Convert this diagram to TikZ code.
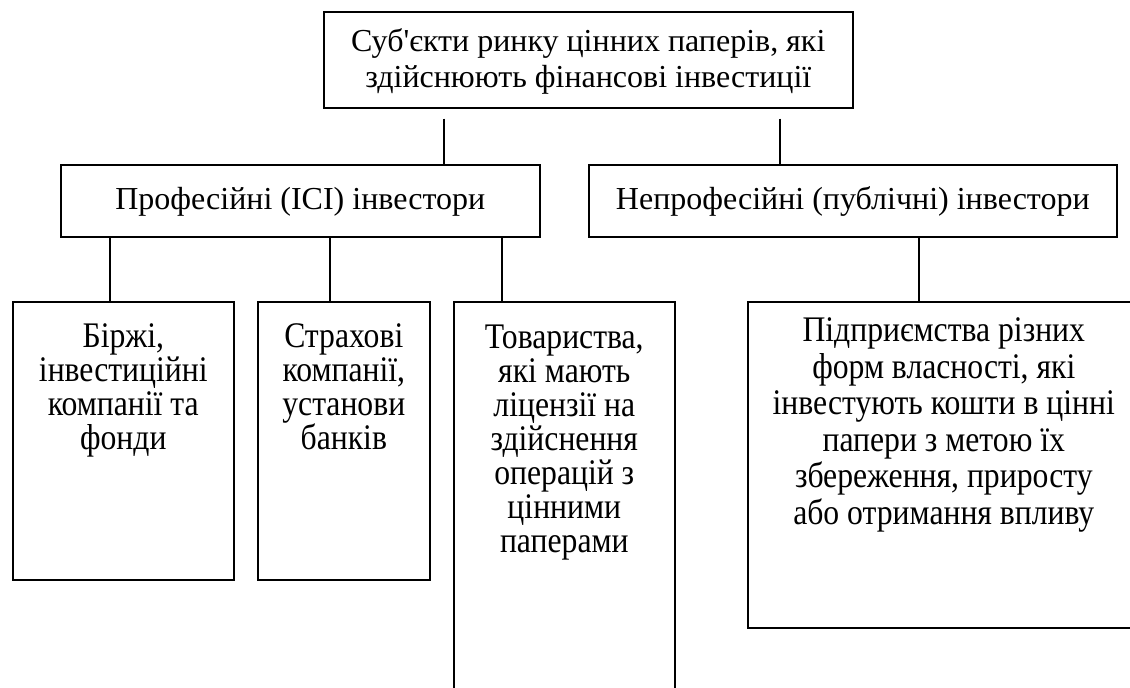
\documentclass[tikz,border=0pt]{standalone}
\usepackage{fontspec}
\setmainfont{Liberation Serif}[Ligatures=TeXOff]
\newfontfamily\tallfont{Liberation Serif}[FakeStretch=0.88]
\newcommand{\boxtxt}[4]{\parbox[c][#2pt][t]{#1pt}{\lineskiplimit=-100pt\centering\rule{0pt}{#3pt}#4}}
\begin{document}
\begin{tikzpicture}[x=1pt,y=-1pt,
  box/.style={draw, line width=1.6pt, inner sep=0pt, anchor=north west},
  upper/.style={box, font=\fontsize{32}{35.5}\selectfont},
  lower/.style={box, font=\tallfont\fontsize{36}{34}\selectfont},
  link/.style={line width=1.6pt}]
\useasboundingbox (0,0) rectangle (1130,688);
\clip (0,0) rectangle (1130,688);
\node[upper] (top) at (323,11) {\boxtxt{529}{96}{40}{Суб'єкти ринку цінних паперів, які\\здійснюють фінансові інвестиції}};
\node[upper] (l2a) at (60,164) {\boxtxt{479}{72}{45}{Професійні (ІСІ) інвестори}};
\node[upper] (l2b) at (588,164) {\boxtxt{528}{72}{45}{Непрофесійні (публічні) інвестори}};
\node[lower] (b1) at (12,301) {\boxtxt{221}{278}{46}{Біржі,\\інвестиційні\\компанії та\\фонди}};
\node[lower] (b2) at (257,301) {\boxtxt{172}{278}{46}{Страхові\\компанії,\\установи\\банків}};
\node[lower] (b3) at (453,301) {\boxtxt{221}{420}{47}{Товариства,\\які мають\\ліцензії на\\здійснення\\операцій з\\цінними\\паперами}};
\node[lower, font=\tallfont\fontsize{36}{36.5}\selectfont] (b4) at (747,301) {\boxtxt{392}{326}{40}{Підприємства різних\\форм власності, які\\інвестують кошти в цінні\\папери з метою їх\\збереження, приросту\\або отримання впливу}};
\coordinate (xa) at (444,0);
\coordinate (xb) at (780,0);
\coordinate (x1) at (110,0);
\coordinate (x2) at (330,0);
\coordinate (x3) at (502,0);
\coordinate (x4) at (919,0);
\draw[link, shorten <=10pt] (top.south -| xa) -- (l2a.north -| xa);
\draw[link, shorten <=10pt] (top.south -| xb) -- (l2b.north -| xb);
\draw[link] (l2a.south -| x1) -- (b1.north -| x1);
\draw[link] (l2a.south -| x2) -- (b2.north -| x2);
\draw[link] (l2a.south -| x3) -- (b3.north -| x3);
\draw[link] (l2b.south -| x4) -- (b4.north -| x4);
\end{tikzpicture}
\end{document}
